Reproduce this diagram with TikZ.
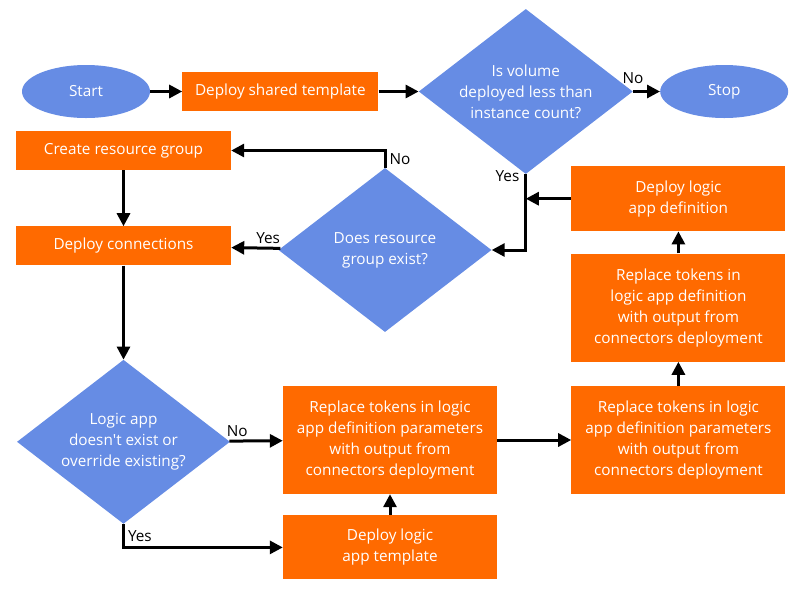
\documentclass[tikz,border=0pt]{standalone}
\usepackage{fontspec}
\setmainfont{Open Sans}
\usepackage{xcolor}
\usepackage{tikz}
\usetikzlibrary{arrows.meta,positioning,shapes.geometric}
\definecolor{boxorange}{RGB}{255,106,0}
\definecolor{shapeblue}{RGB}{102,140,228}
\tikzset{
  process/.style={rectangle,fill=boxorange,text=white,align=center,inner sep=0pt,
    minimum width=214pt,minimum height=108pt},
  decision/.style={diamond,aspect=1.3,fill=shapeblue,text=white,align=center,inner sep=0pt,
    minimum width=213pt,minimum height=164pt},
  terminal/.style={ellipse,fill=shapeblue,text=white,inner sep=0pt,
    minimum width=128pt,minimum height=53pt},
  answer/.style={text=black,inner sep=3pt},
  elbow/.style={to path={|- (\tikztotarget) \tikztonodes}},
  flows/.style={
    every edge/.style={draw,line width=3pt,-{Triangle[length=13pt,width=13pt]}}
  },
  flowchart/.style={
    x=1pt,y=-1pt,
    every node/.style={font=\fontsize{15.3}{21}\selectfont}
  },
}

\begin{document}
\begin{tikzpicture}[flowchart]
  \useasboundingbox (0,0) rectangle (800,590);
  \node[terminal] (start) at (86,91.5) {Start};
  \node[process,minimum width=196pt,minimum height=39pt] (shared) [right=32pt of start] {Deploy shared template};
  \node[decision,minimum width=214pt,minimum height=165pt] (volume) [right=40pt of shared] {Is volume\\deployed less than\\instance count?};
  \node[terminal] (stop) [right=27pt of volume] {Stop};
  \node[process,minimum width=215pt,minimum height=39pt] (create) at (123.5,150.5) {Create resource group};
  \node[process,minimum width=215pt,minimum height=39pt] (connections) [below=56pt of create] {Deploy connections};
  \node[decision] (exists) at (385,250) {Does resource\\group exist?};
  \node[decision] (override) [below=94pt of connections] {Logic app\\doesn\textquotesingle t exist or\\override existing?};
  \node[process] (params) at (390,440) {Replace tokens in logic\\app definition parameters\\with output from\\connectors deployment};
  \node[process,minimum height=64pt] (template) [below=21pt of params] {Deploy logic\\app template};
  \node[process] (params2) [right=74pt of params] {Replace tokens in logic\\app definition parameters\\with output from\\connectors deployment};
  \node[process] (replace) [above=24pt of params2] {Replace tokens in\\logic app definition\\with output from\\connectors deployment};
  \node[process,minimum height=65pt] (defdeploy) [above=22pt of replace] {Deploy logic\\app definition};
  \coordinate (merge) at (defdeploy.west -| volume.south);

  \path[flows]
    (start) edge (shared)
    (shared) edge (volume)
    (volume) edge node[answer,pos=0,above,yshift=3pt] {No} (stop)
    (volume) edge[elbow] node[answer,pos=0,left,xshift=-2pt,yshift=-2pt] {Yes} (exists)
    (exists) edge[elbow] node[answer,pos=0.25,right] {No} (create)
    (exists) edge node[answer,pos=0.25,above] {Yes} (connections)
    (create) edge (connections)
    (connections) edge (override)
    (override) edge node[answer,pos=0.15,above] {No} (params)
    (override) edge[elbow] node[answer,pos=0.25,right] {Yes} (template)
    (template) edge (params)
    (params) edge (params2)
    (params2) edge (replace)
    (replace) edge (defdeploy)
    (defdeploy) edge (merge)
    ;
\end{tikzpicture}
\end{document}
